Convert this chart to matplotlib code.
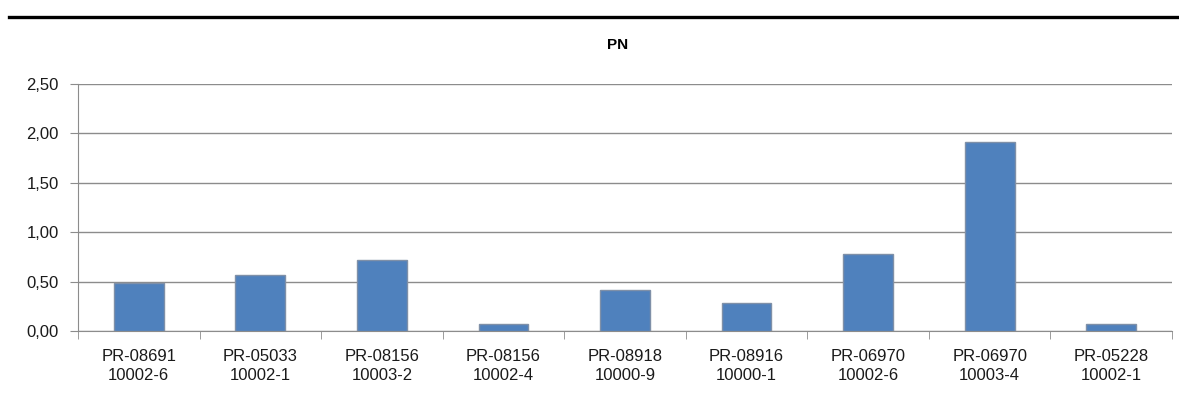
import numpy as np
import matplotlib
matplotlib.use("Agg")
import matplotlib.pyplot as plt
from matplotlib.lines import Line2D

plt.rcParams['font.family'] = ['Liberation Sans', 'DejaVu Sans']

codes = ["PR-08691", "PR-05033", "PR-08156", "PR-08156", "PR-08918",
         "PR-08916", "PR-06970", "PR-06970", "PR-05228"]
lots = ["10002-6", "10002-1", "10003-2", "10002-4", "10000-9",
        "10000-1", "10002-6", "10003-4", "10002-1"]
values = [0.49, 0.57, 0.72, 0.07, 0.42, 0.28, 0.78, 1.91, 0.07]
yticks = [0.0, 0.5, 1.0, 1.5, 2.0, 2.5]

fig = plt.figure(figsize=(11.79, 4.11), dpi=100)
ax = fig.add_axes([78/1179, 80/411, (1172-78)/1179, (331-84)/411])

x = np.arange(len(values))
ax.bar(x, values, width=0.41, color='#4F81BD', edgecolor='#7f90a8', linewidth=1, zorder=3)

ax.set_xlim(-0.5, len(values) - 0.5)
ax.set_ylim(0, 2.5)
ax.set_yticks(yticks)
ax.set_yticklabels([f"{v:.2f}".replace(".", ",") for v in yticks], fontsize=12, color='#1a1a1a')
ax.yaxis.grid(True, color='#8c8c8c', linewidth=1, zorder=0)
ax.tick_params(axis='y', length=6, color='#8c8c8c', pad=8)

ax.set_xticks(x)
ax.set_xticklabels([c + "\n" + l for c, l in zip(codes, lots)], fontsize=12,
                   linespacing=1.35, color='#1a1a1a')
ax.set_xticks(np.arange(len(values) + 1) - 0.5, minor=True)
ax.tick_params(axis='x', which='major', length=0, pad=13)
ax.tick_params(axis='x', which='minor', length=6, color='#8c8c8c')

for s in ['top', 'right']:
    ax.spines[s].set_visible(False)
for s in ['left', 'bottom']:
    ax.spines[s].set_color('#8c8c8c')

fig.text(0.5 * (78 + 1172) / 1179 - 0.006, 1 - 45/411, "PN", ha='center', va='center',
         fontsize=11, fontweight='bold')
fig.add_artist(Line2D([9/1179, 1.0], [1 - 17/411, 1 - 17/411], color='black', linewidth=2.4))

fig.savefig("out.png", dpi=100)
